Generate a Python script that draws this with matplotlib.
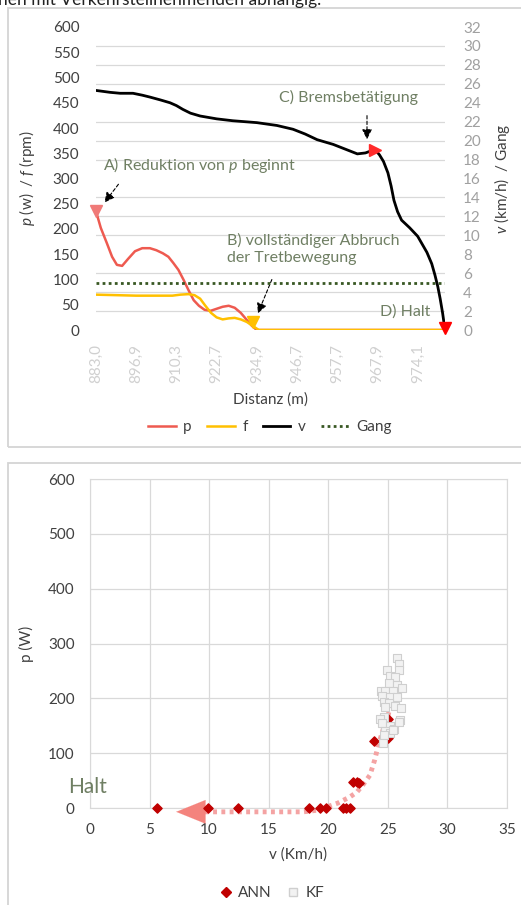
import matplotlib.pyplot as plt
from matplotlib.patches import Rectangle
from matplotlib.ticker import MultipleLocator
from matplotlib.lines import Line2D

plt.rcParams['font.family'] = ['Lato', 'DejaVu Sans']
plt.rcParams['mathtext.fontset'] = 'custom'
plt.rcParams['mathtext.it'] = 'Lato:italic'
plt.rcParams['mathtext.rm'] = 'Lato'

# ---- top chart data (x = category position along the distance axis) ----
dist_labels = ['883,0', '896,9', '910,3', '922,7', '934,9',
               '946,7', '957,7', '967,9', '974,1']

p_pos = [0, 0.12, 0.27, 0.4, 0.52, 0.65, 0.8, 0.97, 1.15, 1.34, 1.5, 1.66,
         1.8, 1.92, 2.05, 2.18, 2.3, 2.43, 2.56, 2.7, 2.85, 3.0, 3.15, 3.3,
         3.45, 3.6, 3.75, 3.88, 4.0, 8.68]
p_vals = [235, 202, 172, 145, 129, 127, 141, 156, 162, 162, 158, 152,
          145, 133, 119, 99, 79, 59, 48, 40, 38, 42, 46, 48,
          44, 34, 20, 8, 0, 0]

f_pos = [0, 0.5, 1.0, 1.5, 1.9, 2.1, 2.3, 2.45, 2.59, 2.72, 2.86, 3.0,
         3.15, 3.3, 3.45, 3.6, 3.75, 3.9, 4.05, 8.68]
f_vals = [70, 69, 68, 68, 68, 70, 71, 69, 62, 48, 34, 25,
          21, 23, 24, 21, 16, 8, 0, 0]

v_pos = [0, 0.35, 0.6, 0.92, 1.15, 1.34, 1.6, 1.84, 2.0, 2.16, 2.35, 2.59,
         3.0, 3.4, 4.0, 4.5, 4.9, 5.2, 5.5, 5.9, 6.2, 6.5, 6.7, 6.83, 6.95,
         7.05, 7.15, 7.26, 7.34, 7.41, 7.5, 7.6, 7.8, 8.0, 8.23, 8.35, 8.43,
         8.5, 8.56, 8.62, 8.68]
v_vals = [25.3, 25.1, 25.0, 25.0, 24.8, 24.6, 24.3, 24.0, 23.7, 23.3, 22.9,
          22.6, 22.3, 22.1, 21.9, 21.6, 21.2, 20.7, 20.1, 19.6, 19.1, 18.6,
          18.7, 18.9, 19.0, 18.5, 17.8, 16.6, 15.2, 13.7, 12.5, 11.6, 10.8,
          9.9, 8.2, 7.0, 5.8, 4.6, 3.3, 1.8, 0]

gang_pos = [0, 1, 2, 3, 4, 5, 6, 7, 8, 8.68]
gang_vals = [5, 5, 5, 5, 5, 5, 5, 5, 5, 5]

# ---- bottom chart data ----
ann_v = [5.6, 9.9, 12.4, 18.4, 19.3, 19.8, 21.2, 21.5, 21.8, 22.1, 22.4,
         22.6, 23.8, 25.0, 25.0, 25.4]
ann_p = [0, 0, 0, 0, 0, 0, 0, 0, 0, 48, 47, 46, 122, 128, 163, 217]

kf_v = [25.8, 25.9, 24.9, 25.9, 25.2, 25.6, 25.1, 25.8, 26.2, 24.4, 24.8,
        25.4, 24.5, 25.2, 25.8, 24.7, 25.1, 25.6, 24.8, 26.1, 24.7, 24.3,
        26.0, 24.5, 25.2, 25.5, 24.8, 25.2, 24.7, 25.9, 25.4, 24.6]
kf_p = [274, 263, 252, 252, 240, 239, 228, 225, 219, 213, 213, 213, 204,
        202, 202, 194, 191, 186, 185, 182, 166, 162, 160, 155, 150, 144,
        140, 137, 133, 157, 143, 119]

trend_v = [25.5, 25.4, 25.0, 24.6, 24.2, 23.9, 23.5, 22.9, 22.4, 21.8,
           20.8, 19.1, 17.9, 14.3, 9.6]
trend_p = [219, 203, 167, 143, 115, 88, 60, 42, 29, 20, 9, -4, -7, -7, -7]

W, H = 521, 905
def px_rect(l, t, r, b):
    return [l / W, 1 - b / H, (r - l) / W, (b - t) / H]

note_col = '#6f7f63'
tick_col = '#404040'
p_col = '#ee5a50'
f_col = '#ffc000'
g_col = '#385723'

fig = plt.figure(figsize=(5.21, 9.05), dpi=100)

# panel frames
fig.patches.append(Rectangle((8 / W, 1 - 447 / H), 1, 439 / H,
                             transform=fig.transFigure, fill=False,
                             ec='#d4d4d4', lw=1.3))
fig.patches.append(Rectangle((8 / W, -0.01), 1, 1 - 463 / H + 0.01,
                             transform=fig.transFigure, fill=False,
                             ec='#d4d4d4', lw=1.3))
fig.text(-0.004, 1 - 5 / H, 'hen mit Verkehrsteilnehmenden abhängig.',
         fontsize=12.5, color='#222222', va='baseline', ha='left')

# ---------------- top chart ----------------
ax = fig.add_axes(px_rect(96, 27, 445, 330))
ax2 = ax.twinx()

ax.plot(p_pos, p_vals, color=p_col, lw=1.8, label='p', zorder=3)
ax.plot(f_pos, f_vals, color=f_col, lw=1.8, label='f', zorder=3)
ax2.plot(v_pos, v_vals, color='black', lw=2.0, label='v', zorder=3)
ax2.plot(gang_pos, gang_vals, color=g_col, lw=2.0, ls=(0, (1, 1.2)),
         label='Gang', zorder=2)

# event markers
ax.plot(p_pos[0], p_vals[0], marker='v', ms=9, color='#f07a78', zorder=4,
        clip_on=False)
ax.plot(f_pos[17], f_vals[17] + 8, marker='v', ms=9, color=f_col, zorder=4)
ax2.plot(v_pos[24], v_vals[24], marker='>', ms=8, color='#ff2a2a', zorder=4)
ax2.plot(v_pos[-1], v_vals[-1] + 0.2, marker='v', ms=8, color='#ff0000',
         zorder=4, clip_on=False)

ax.set_xlim(0, 8.68)
ax.set_ylim(0, 600)
ax2.set_ylim(0, 32)
ax.set_yticks(range(0, 601, 50))
ax2.set_yticks(range(0, 33, 2))
ax.yaxis.set_minor_locator(MultipleLocator(37.5))
ax.grid(axis='y', which='minor', color='#d9d9d9', lw=0.9)
ax.set_xticks(range(len(dist_labels)))
ax.set_xticklabels(dist_labels, rotation=90, color='#d0d0d0', fontsize=11)
for a in (ax, ax2):
    for s in a.spines.values():
        s.set_visible(False)
ax.tick_params(axis='both', which='both', length=0)
ax.tick_params(axis='y', labelsize=11, labelcolor=tick_col, pad=12)
ax.tick_params(axis='x', pad=10)
ax2.tick_params(axis='y', length=0, labelsize=11, labelcolor='#a0a0a0',
                pad=13)

ax.set_ylabel(r'$\mathit{p}$ (w)  / $\mathit{f}$ (rpm)', fontsize=11,
              color=tick_col, labelpad=11)
ax2.set_ylabel(r'$\mathit{v}$ (km/h)  / Gang', fontsize=11, color=tick_col,
               labelpad=8)
ax.set_xlabel('Distanz (m)', fontsize=11, color=tick_col, labelpad=7)

arrow = dict(arrowstyle='-|>,head_length=0.6,head_width=0.3', color='black',
             lw=0.8, ls=(0, (3, 2)))
ax.text(0.17, 327, r'A) Reduktion von $\mathit{p}$ beginnt', fontsize=11.5,
        color=note_col, va='center')
ax.annotate('', xy=(0.17, 248), xytext=(0.6, 293), arrowprops=arrow)
ax.text(3.26, 160, 'B) vollständiger Abbruch\nder Tretbewegung',
        fontsize=11.5, color=note_col, va='center', linespacing=1.3)
ax.annotate('', xy=(4.0, 28), xytext=(4.4, 105), arrowprops=arrow)
ax.text(6.29, 461, 'C) Bremsbetätigung', fontsize=11.5, color=note_col,
        va='center', ha='center')
ax.annotate('', xy=(6.74, 372), xytext=(6.74, 430), arrowprops=arrow)
ax.text(8.31, 36, 'D) Halt', fontsize=11.5, color=note_col, va='center',
        ha='right')

handles = ax.get_lines()[:2] + ax2.get_lines()[:2]
fig.legend(handles=handles, labels=['p', 'f', 'v', 'Gang'],
           loc='center', bbox_to_anchor=(270 / W, 1 - 427 / H), ncol=4,
           frameon=False, fontsize=11, handlelength=1.8, handletextpad=0.5,
           columnspacing=1.0, labelcolor=tick_col)

# ---------------- bottom chart ----------------
bx = fig.add_axes(px_rect(90, 479, 507, 808))
bx.plot(trend_v, trend_p, color='#f4a3a3', lw=3.5, ls=(0, (0.8, 0.9)),
        solid_capstyle='butt', clip_on=False, zorder=2)
bx.annotate('', xy=(7.0, -7), xytext=(trend_v[-1], trend_p[-1]),
            arrowprops=dict(arrowstyle='-|>,head_length=2.1,head_width=0.85',
                            color='#f4837d', lw=0.1),
            annotation_clip=False, zorder=3)
bx.scatter(ann_v, ann_p, marker='D', s=22, color='#c00000', zorder=4,
           clip_on=False, label='ANN')
bx.scatter(kf_v, kf_p, marker='s', s=28, facecolor='#f2f2f2',
           edgecolor='#cfcfcf', lw=0.8, zorder=5, label='KF')

bx.set_xlim(0, 35)
bx.set_ylim(0, 600)
bx.set_xticks(range(0, 36, 5))
bx.set_yticks(range(0, 601, 100))
bx.grid(color='#d9d9d9', lw=0.9)
bx.set_axisbelow(True)
for s in bx.spines.values():
    s.set_color('#d9d9d9')
bx.tick_params(length=0, labelsize=11, labelcolor=tick_col, pad=11)
bx.set_ylabel('p (W)', fontsize=11, color=tick_col, labelpad=10)
bx.set_xlabel('v (Km/h)', fontsize=11, color=tick_col, labelpad=7)
bx.text(-0.2, 38, 'Halt', fontsize=15, color=note_col, ha='center',
        va='center')

fig.legend(handles=[Line2D([], [], ls='', marker='D', ms=5, color='#c00000'),
                    Line2D([], [], ls='', marker='s', ms=5.5, mfc='#f2f2f2',
                           mec='#cfcfcf')],
           labels=['ANN', 'KF'], loc='center',
           bbox_to_anchor=(272 / W, 1 - 893 / H), ncol=2, frameon=False,
           fontsize=11, handlelength=0.8, handletextpad=0.4,
           columnspacing=1.0, labelcolor=tick_col)

fig.savefig('out.png', dpi=100)
